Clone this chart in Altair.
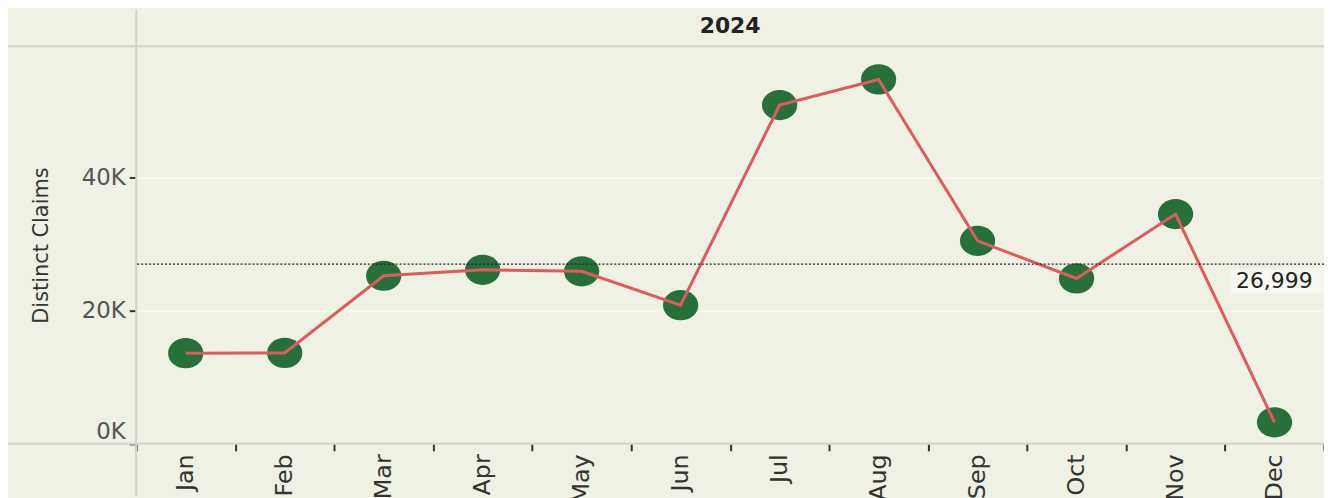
import altair as alt
import pandas as pd

# ---- data ----
months = ["Jan", "Feb", "Mar", "Apr", "May", "Jun", "Jul", "Aug", "Sep", "Oct", "Nov", "Dec"]
claims = [13612, 13650, 25240, 26130, 25910, 20820, 50870, 54710, 30480, 24830, 34500, 3236]
year_label = ["2024"]
y_tick_values = [0, 20000, 40000]
y_max = 59700

W, H = 1195, 400
BG = "#EEF1E3"
LINE_GREY = "#D2D3CC"
FONT = "DejaVu Sans"

df = pd.DataFrame({"month": months, "claims": claims})
header_df = pd.DataFrame({"year": year_label})
dummy = pd.DataFrame({"d": [0]})

x_enc = alt.X(
    "month:N",
    sort=months,
    scale=alt.Scale(type="band", paddingInner=0, paddingOuter=0),
    axis=alt.Axis(
        title=None, labelAngle=270, labelAlign="right", labelBaseline="middle",
        tickBand="extent", tickSize=7, tickWidth=2, tickColor="#333333",
        labelPadding=3, labelFontSize=24, labelColor="#333333", labelFont=FONT,
        domain=False, grid=False,
    ),
)
y_enc = alt.Y(
    "claims:Q",
    scale=alt.Scale(domain=[0, y_max], nice=False, zero=True),
    axis=alt.Axis(
        title="Distinct Claims", values=y_tick_values,
        labelExpr="datum.value / 1000 + 'K'", labelFlush=True,
        domain=False, tickSize=7, tickWidth=2, tickColor="#333333",
        labelPadding=4, labelFontSize=23, labelColor="#555555", labelFont=FONT,
        grid=True, gridColor="#F7F9F1", gridWidth=2,
        titleFontSize=21, titleFontWeight="normal", titleColor="#333333", titleFont=FONT,
        titleX=-95, titleY=200, titleAngle=270, titleBaseline="middle", titleAlign="center",
    ),
)

base = alt.Chart(df)

ellipse = "M-1,0A1,0.857,0,1,1,1,0A1,0.857,0,1,1,-1,0Z"
points = base.mark_point(shape=ellipse, filled=True, size=1260, color="#27703B", opacity=1).encode(
    x=x_enc, y=y_enc
)
line = base.mark_line(color="#E05A5D", strokeWidth=3).encode(x=x_enc, y=y_enc)

avg = base.transform_aggregate(avg="mean(claims)")
ref_rule = avg.mark_rule(color="#222222", strokeWidth=1.3, strokeDash=[2, 2]).encode(y="avg:Q")
ref_box = avg.mark_rect(color="#F6F7F1", yOffset=4, y2Offset=30).encode(
    x=alt.value(1101), x2=alt.value(1195), y="avg:Q", y2=alt.Y2("avg")
)
ref_text = avg.mark_text(font=FONT, fontSize=22, color="#222222", align="center",
                         baseline="middle", yOffset=17).encode(
    x=alt.value(1145), y="avg:Q", text=alt.Text("avg:Q", format=",.0f")
)

# column header (Tableau style)
header = alt.Chart(header_df).mark_text(
    font=FONT, fontSize=22, fontWeight="bold", color="#222222", align="center", baseline="middle"
).encode(x=alt.value(W / 2), y=alt.value(-20), text="year:N")

# decorative table borders (Tableau style)
dec = alt.Chart(dummy)
top_line = dec.mark_rule(color=LINE_GREY, strokeWidth=2).encode(
    x=alt.value(-129), x2=alt.value(W), y=alt.value(0)
)
bottom_line = dec.mark_rule(color=LINE_GREY, strokeWidth=2).encode(
    x=alt.value(-129), x2=alt.value(W), y=alt.value(H)
)
left_line = dec.mark_rule(color=LINE_GREY, strokeWidth=2).encode(
    x=alt.value(0), y=alt.value(-37), y2=alt.value(H + 53)
)

chart = alt.layer(
    top_line, bottom_line, left_line, header, ref_box, points, line, ref_rule, ref_text
).properties(
    width=W,
    height=H,
    autosize=alt.AutoSizeParams(type="none"),
    padding={"left": 129, "top": 37, "right": 0, "bottom": 53},
    background=BG,
).configure_view(stroke=None)

chart.save("out.html", embed_options={"renderer": "svg", "actions": False})
